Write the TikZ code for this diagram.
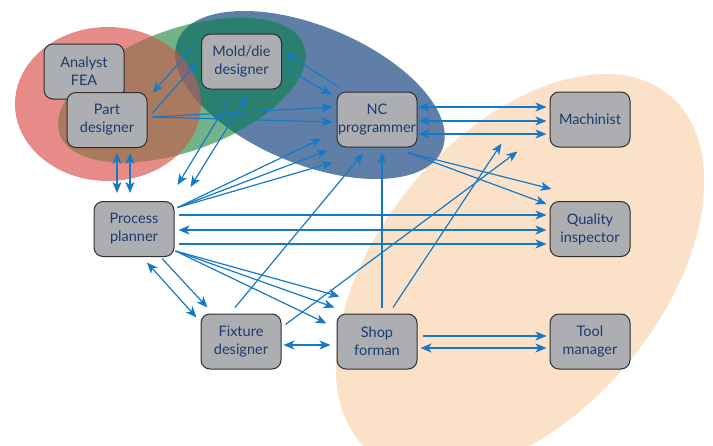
\documentclass[tikz,border=0pt]{standalone}
\usepackage{fontspec}
\setmainfont{Lato}
\usetikzlibrary{arrows.meta,calc}
\definecolor{peachc}{HTML}{FCE1C9}
\definecolor{bluec}{HTML}{5F7FA8}
\definecolor{tealc}{HTML}{2B7F6F}
\definecolor{greenc}{HTML}{72B487}
\definecolor{redc}{HTML}{E68B88}
\definecolor{brownc}{HTML}{AA7A60}
\definecolor{darkc}{HTML}{8C6664}
\definecolor{boxfill}{HTML}{ADAEB2}
\definecolor{boxline}{HTML}{2E2E30}
\definecolor{txtc}{HTML}{1A3B6C}
\definecolor{arrc}{HTML}{1679C5}
\def\Ered{(108,104) ellipse [x radius=93pt, y radius=77pt]}
\def\Egreen{[rotate around={20:(182,90)}] (182,90) ellipse [x radius=130pt, y radius=61pt]}
\def\Eblue{[rotate around={-22.5:(310,95)}] (310,95) ellipse [x radius=143pt, y radius=69pt]}
\def\Epeach{[rotate around={50:(520,274)}] (520,274) ellipse [x radius=233pt, y radius=140pt]}
\begin{document}
\begin{tikzpicture}[x=1pt,y=-1pt,
  box/.style={draw=boxline, line width=1pt, fill=boxfill, rounded corners=9pt,
    minimum width=80pt, minimum height=55pt, inner sep=0pt, align=center,
    text=txtc, font=\fontsize{14.5}{18}\selectfont},
  tip/.tip={Stealth[length=11pt,width=9pt,inset=3pt]},
  con/.style={draw=arrc, line width=1.2pt, -tip},
  dcon/.style={draw=arrc, line width=1.2pt, tip-tip}
]
\useasboundingbox (0,0) rectangle (713,445);
% background regions
\fill[peachc] \Epeach;
\fill[bluec] \Eblue;
\fill[greenc] \Egreen;
\fill[redc] \Ered;
\begin{scope}\clip \Ered; \fill[brownc] \Egreen; \end{scope}
\begin{scope}\clip \Egreen; \fill[tealc] \Eblue; \end{scope}
\begin{scope}\clip \Ered; \clip \Egreen; \fill[darkc] \Eblue; \end{scope}
% nodes
\node[box] (AF) at (84,71.5) {Analyst\\FEA};
\node[box] (PD) at (107,120) {Part\\designer};
\node[box] (MD) at (241.5,61.5) {Mold/die\\designer};
\node[box] (NC) at (377,119.5) {NC\\programmer};
\node[box] (MA) at (590,119.5) {Machinist};
\node[box] (QI) at (590,229) {Quality\\inspector};
\node[box] (PP) at (134,229) {Process\\planner};
\node[box] (FD) at (241,341.5) {Fixture\\designer};
\node[box] (SF) at (377,341.5) {Shop\\forman};
\node[box] (TM) at (590,341.5) {Tool\\manager};
% connectors
\draw[dcon] ([shift={(10,5)}]PD.south) -- ([shift={(-17,-8)}]PP.north);
\draw[dcon] ([shift={(23,5)}]PD.south) -- ([shift={(-4,-8)}]PP.north);
\draw[con] ([shift={(-4.5,-18.5)}]MD.west) -- ([shift={(5,-27)}]PD.east);
\draw[con] ([shift={(5,-7)}]PD.east) -- ([shift={(-4.5,1.5)}]MD.west);
\draw[con] ([shift={(5,-3)}]PD.east) -- ([shift={(-4,-12.5)}]NC.west);
\draw[con] ([shift={(5,-3)}]PD.east) -- ([shift={(-4,2.5)}]NC.west);
\draw[con] ([shift={(3.5,6.5)}]MD.east) -- ([shift={(-5,-24.5)}]NC.west);
\draw[con] ([shift={(3,-4)}]NC.north west) -- ([shift={(3.5,-8.5)}]MD.east);
\draw[con] ([shift={(-9.5,6)}]MD.south) -- ([shift={(3,-16)}]PP.north east);
\draw[dcon] ([shift={(16,-14)}]PP.north east) -- ([shift={(5.5,6)}]MD.south);
\draw[con] ([shift={(3,-21.5)}]PP.east) -- ([shift={(-15,-9)}]NC.south west);
\draw[con] ([shift={(3,-21.5)}]PP.east) -- ([shift={(-9,3)}]NC.south west);
\draw[con] ([shift={(3,-21.5)}]PP.east) -- ([shift={(-4,15)}]NC.south west);
\draw[con] ([shift={(-6,-6)}]FD.north) -- ([shift={(-14,6)}]NC.south);
\draw[con] ([shift={(5,-6)}]SF.north) -- ([shift={(5,5)}]NC.south);
\draw[con] ([shift={(16,-6)}]SF.north) -- ([shift={(-48,-4)}]MA.south west);
\draw[con] ([shift={(4,11)}]FD.north east) -- ([shift={(-32,4)}]MA.south west);
\draw[dcon] ([shift={(1,-12.5)}]NC.east) -- ([shift={(-3,-12.5)}]MA.west);
\draw[dcon] ([shift={(1,1.5)}]NC.east) -- ([shift={(-3,1.5)}]MA.west);
\draw[dcon] ([shift={(1,14.5)}]NC.east) -- ([shift={(-3,14.5)}]MA.west);
\draw[con] ([shift={(-10,5)}]NC.south east) -- ([shift={(2,-12)}]QI.north west);
\draw[con] ([shift={(-10,5)}]NC.south east) -- ([shift={(-3,3)}]QI.north west);
\draw[con] ([shift={(4,-14)}]PP.east) -- ([shift={(-3,-14)}]QI.west);
\draw[dcon] ([shift={(4,1)}]PP.east) -- ([shift={(-3,1)}]QI.west);
\draw[con] ([shift={(4,15)}]PP.east) -- ([shift={(-3,15)}]QI.west);
\draw[con] ([shift={(28,1.5)}]PP.south) -- ([shift={(7,-6)}]FD.north west);
\draw[dcon] ([shift={(13,5.5)}]PP.south) -- ([shift={(-4,4)}]FD.north west);
\draw[con] ([shift={(1,-6)}]PP.south east) -- ([shift={(3,-17)}]SF.north west);
\draw[con] ([shift={(1,-6)}]PP.south east) -- ([shift={(-2,-6)}]SF.north west);
\draw[con] ([shift={(1,-6)}]PP.south east) -- ([shift={(-10,10)}]SF.north west);
\draw[dcon] ([shift={(2,3.5)}]FD.east) -- ([shift={(-6,3.5)}]SF.west);
\draw[con] ([shift={(5,-5.5)}]SF.east) -- ([shift={(-3,-5.5)}]TM.west);
\draw[dcon] ([shift={(3,6.5)}]SF.east) -- ([shift={(-3,6.5)}]TM.west);
\end{tikzpicture}
\end{document}
